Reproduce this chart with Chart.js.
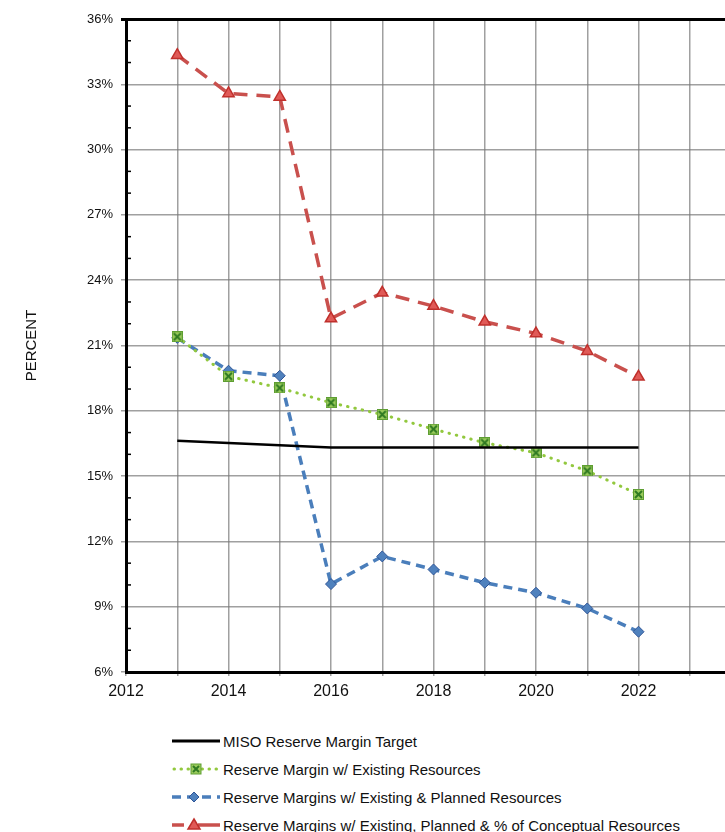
<!DOCTYPE html>
<html>
<head>
<meta charset="utf-8">
<script src="https://cdn.jsdelivr.net/npm/chart.js@4.4.1/dist/chart.umd.min.js"></script>
<style>
  html, body { margin: 0; padding: 0; background: #fff; overflow: hidden; width: 725px; height: 832px; }
  #wrap { position: relative; width: 725px; height: 832px; overflow: hidden; }
  #c { position: absolute; left: 0; top: 0; }
  #legend { position: absolute; left: 172px; top: 727px; font-family: Arial, "Liberation Sans", sans-serif; font-size: 15px; color: #111; }
  .row { height: 28px; display: flex; align-items: center; white-space: nowrap; }
  .row svg { width: 50px; height: 16px; margin-right: 1px; flex: none; }
</style>
</head>
<body>
<div id="wrap">
  <canvas id="c" width="760" height="700"></canvas>
  <div id="legend"></div>
</div>
<script>
// ---- data ----
const years = [2013, 2014, 2015, 2016, 2017, 2018, 2019, 2020, 2021, 2022];
const misoTarget = [16.62, 16.52, 16.42, 16.31, 16.31, 16.31, 16.31, 16.31, 16.31, 16.31];
const existing = [21.40, 19.59, 19.05, 18.37, 17.83, 17.16, 16.53, 16.07, 15.24, 14.16];
const existingPlanned = [21.35, 19.84, 19.61, 10.04, 11.31, 10.71, 10.10, 9.64, 8.92, 7.85];
const existingPlannedConceptual = [34.34, 32.58, 32.42, 22.24, 23.42, 22.81, 22.09, 21.55, 20.74, 19.56];
const seriesNames = [
  "MISO Reserve Margin Target",
  "Reserve Margin w/ Existing Resources",
  "Reserve Margins w/ Existing & Planned Resources",
  "Reserve Margins w/ Existing, Planned & % of Conceptual Resources"
];
const xLabelYears = [2012, 2014, 2016, 2018, 2020, 2022];
const yAxisTitle = "PERCENT";

function pts(arr) { return years.map((y, i) => ({ x: y, y: arr[i] })); }

// square with X marker
function makeSquareX(size) {
  const c = document.createElement('canvas');
  c.width = size; c.height = size;
  const g = c.getContext('2d');
  g.fillStyle = '#9BCB5C';
  g.fillRect(0.5, 0.5, size - 1, size - 1);
  g.strokeStyle = '#5E9E32';
  g.lineWidth = 1;
  g.strokeRect(0.5, 0.5, size - 1, size - 1);
  g.strokeStyle = '#2F7A22';
  g.lineWidth = 2;
  g.beginPath();
  g.moveTo(2, 2); g.lineTo(size - 2, size - 2);
  g.moveTo(size - 2, 2); g.lineTo(2, size - 2);
  g.stroke();
  return c;
}
const sqX = makeSquareX(11);

const minorTicks = {
  id: 'minorTicks',
  afterDraw(chart) {
    const ys = chart.scales.y;
    const ctx = chart.ctx;
    ctx.save();
    ctx.strokeStyle = '#000';
    ctx.lineWidth = 1.5;
    for (let v = Math.ceil(ys.min); v < ys.max; v++) {
      if (v % 3 === 0) continue;
      const py = ys.getPixelForValue(v);
      ctx.beginPath();
      ctx.moveTo(chart.chartArea.left, py);
      ctx.lineTo(chart.chartArea.left + 5, py);
      ctx.stroke();
    }
    ctx.restore();
  }
};

const FONT = "Arial, 'Liberation Sans', sans-serif";

new Chart(document.getElementById('c'), {
  type: 'line',
  data: {
    datasets: [
      {
        label: seriesNames[0], data: pts(misoTarget),
        borderColor: '#000', borderWidth: 2.5, pointRadius: 0, tension: 0
      },
      {
        label: seriesNames[1], data: pts(existing),
        borderColor: '#92C83E', borderWidth: 3, borderDash: [0.5, 7], borderCapStyle: 'round',
        pointStyle: sqX, pointRadius: 6, tension: 0
      },
      {
        label: seriesNames[2], data: pts(existingPlanned),
        borderColor: '#4A7EBB', borderWidth: 3.5, borderDash: [9, 6],
        pointStyle: 'rectRot', pointRadius: 5.5, pointBackgroundColor: '#4F81BD',
        pointBorderColor: '#2F5597', pointBorderWidth: 1, tension: 0
      },
      {
        label: seriesNames[3], data: pts(existingPlannedConceptual),
        borderColor: '#C9504D', borderWidth: 3.5, borderDash: [14, 9],
        pointStyle: 'triangle', pointRadius: 6.5, pointBackgroundColor: '#E05A57',
        pointBorderColor: '#C0302C', pointBorderWidth: 1.5, tension: 0
      }
    ]
  },
  options: {
    responsive: false,
    animation: false,
    devicePixelRatio: 1,
    layout: { padding: { top: 19, right: 19, left: 0, bottom: 0 } },
    plugins: { legend: { display: false }, tooltip: { enabled: false } },
    scales: {
      x: {
        type: 'linear', min: 2012, max: 2024,
        ticks: {
          stepSize: 1, autoSkip: false, maxRotation: 0, padding: 6,
          color: '#111', font: { family: FONT, size: 16 },
          callback: (v) => xLabelYears.includes(v) ? String(v) : ''
        },
        grid: { color: 'rgba(120,120,120,0.7)', lineWidth: 1.5, tickLength: 4 },
        border: { color: '#000', width: 3 },
        afterFit: (s) => { s.height = 28; }
      },
      y: {
        min: 6, max: 36,
        ticks: {
          stepSize: 3, padding: 8, color: '#111', font: { family: FONT, size: 13 },
          callback: (v) => v + '%'
        },
        grid: {
          color: (c) => c.tick && c.tick.value === 36 ? '#000' : 'rgba(120,120,120,0.7)',
          lineWidth: (c) => c.tick && c.tick.value === 36 ? 3 : 1.5,
          tickLength: 5
        },
        border: { color: '#000', width: 3 },
        title: {
          display: true, text: yAxisTitle, color: '#111',
          font: { family: FONT, size: 15 }, padding: { top: 23, bottom: 0 }
        },
        afterFit: (s) => { s.width = 126; }
      }
    }
  },
  plugins: [minorTicks]
});

// ---- HTML legend ----
const legendSamples = [
  '<svg viewBox="0 0 50 16"><line x1="0" y1="8" x2="48" y2="8" stroke="#000" stroke-width="3"/></svg>',
  '<svg viewBox="0 0 50 16"><line x1="2" y1="8" x2="48" y2="8" stroke="#92C83E" stroke-width="3" stroke-dasharray="0.5 6.5" stroke-linecap="round"/>' +
    '<rect x="19" y="3" width="10" height="10" fill="#9BCB5C" stroke="#5E9E32" stroke-width="1"/>' +
    '<path d="M21 5 L27 11 M27 5 L21 11" stroke="#2F7A22" stroke-width="2"/></svg>',
  '<svg viewBox="0 0 50 16"><line x1="0" y1="8" x2="48" y2="8" stroke="#4A7EBB" stroke-width="3.5" stroke-dasharray="9 6"/>' +
    '<path d="M22 3 L27 8 L22 13 L17 8 Z" fill="#4F81BD" stroke="#2F5597" stroke-width="1"/></svg>',
  '<svg viewBox="0 0 50 16"><line x1="0" y1="8" x2="12" y2="8" stroke="#C9504D" stroke-width="3.5"/>' +
    '<line x1="26" y1="8" x2="48" y2="8" stroke="#C9504D" stroke-width="3.5"/>' +
    '<path d="M22 2 L28 12 L16 12 Z" fill="#E05A57" stroke="#C0302C" stroke-width="1.5"/></svg>'
];
const lg = document.getElementById('legend');
seriesNames.forEach((n, i) => {
  const row = document.createElement('div');
  row.className = 'row';
  row.innerHTML = legendSamples[i];
  const sp = document.createElement('span');
  sp.textContent = n;
  row.appendChild(sp);
  lg.appendChild(row);
});
</script>
</body>
</html>
